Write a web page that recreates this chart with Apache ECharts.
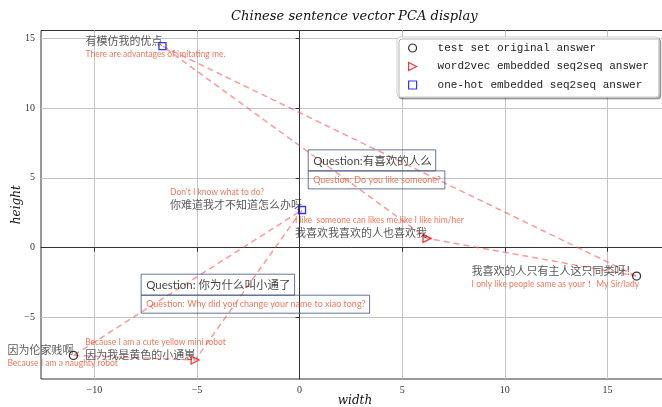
<!DOCTYPE html>
<html><head><meta charset="utf-8">
<script src="https://cdn.jsdelivr.net/npm/echarts@6/dist/echarts.min.js"></script>
<style>html,body{margin:0;padding:0;background:#fff}#c{width:662px;height:407px}</style>
</head><body><div id="c"></div>
<script>
// ---- data ----
const seriesNames = ['test set original answer', 'word2vec embedded seq2seq answer', 'one-hot embedded seq2seq answer'];
const xTicks = [-10, -5, 0, 5, 10, 15];
const yTicks = [-5, 0, 5, 10, 15];
const testX = [16.42, -11.02];
const testY = [-2.03, -7.71];
const w2vX = [6.21, -5.09];
const w2vY = [0.67, -8.04];
const oneHotX = [-6.68, 0.12];
const oneHotY = [14.43, 2.70];
const testZh = ['我喜欢的人只有主人这只同类呀！', '因为伦家贱啊'];
const testEn = ['I only like people same as your！ My Sir/lady', 'Because I am a naughty robot'];
const w2vZh = ['我喜欢我喜欢的人也喜欢我', '因为我是黄色的小通崽'];
const w2vEn = ['I like  someone can likes me,like I like him/her', 'Because I am a cute yellow mini robot'];
const oneHotZh = ['有模仿我的优点', '你难道我才不知道怎么办呀'];
const oneHotEn = ["There are advantages of imitating me.", "Don't I know what to do?"];
const questionZh = ['Question:有喜欢的人么', 'Question: 你为什么叫小通了'];
const questionEn = ['Question: Do you like someone?', 'Question: Why did you change your name to xiao tong?'];
const questionX = [0.42, -7.72];
const questionY = [5.5, -3.4];

// ---- styling / layout ----
const enAbove = { test: [false, false], w2v: [true, true], oneHot: [false, true] };
const zhFontSize = 11, zhFamily = '"Noto Sans CJK SC"';
const enColor = '#ee5533';
const ctx = document.createElement('canvas').getContext('2d');
function measure(str, size, family) { ctx.font = size + 'px ' + family; return ctx.measureText(str).width; }

const annData = [];
function addLabels(xs, ys, zh, en, above) {
  xs.forEach((x, i) => {
    const w = measure(zh[i], zhFontSize, zhFamily);
    annData.push({
      value: [x, ys[i]],
      label: { show: true, position: [0.5, 0.5], align: 'right', verticalAlign: 'bottom',
        formatter: zh[i], fontFamily: zhFamily, fontSize: zhFontSize, color: '#2e2e2e' }
    });
    annData.push({
      value: [x, ys[i]],
      label: { show: true, position: [0.5 - w, 0.5 + (above[i] ? -18 : 8)], align: 'left', verticalAlign: 'middle',
        formatter: en[i], fontFamily: 'Lato', fontSize: 8.5, color: enColor }
    });
  });
}
addLabels(testX, testY, testZh, testEn, enAbove.test);
addLabels(w2vX, w2vY, w2vZh, w2vEn, enAbove.w2v);
addLabels(oneHotX, oneHotY, oneHotZh, oneHotEn, enAbove.oneHot);
questionX.forEach((x, i) => {
  annData.push({
    value: [x, questionY[i]],
    label: { show: true, position: [0.5, 0.5], align: 'left', verticalAlign: 'bottom',
      formatter: questionZh[i], fontFamily: 'Lato, "Noto Sans CJK SC"', fontSize: 11.5, lineHeight: 14, color: '#111',
      borderColor: '#44527f', borderWidth: 1, padding: [4, 4, 3, 5] }
  });
  annData.push({
    value: [x, questionY[i]],
    label: { show: true, position: [0.5, 0.5], align: 'left', verticalAlign: 'top',
      formatter: questionEn[i], fontFamily: 'Lato', fontSize: 9, lineHeight: 12, color: enColor,
      borderColor: '#44527f', borderWidth: 1, padding: [3, 4, 3, 5] }
  });
});

const lineSeries = testX.map((_, i) => ({
  type: 'line', name: 'link' + i, silent: true, symbol: 'none', z: 1,
  data: [[testX[i], testY[i]], [w2vX[i], w2vY[i]], [oneHotX[i], oneHotY[i]], [testX[i], testY[i]]],
  lineStyle: { color: 'rgba(255,70,70,0.55)', width: 1.5, type: [6, 4] }
}));
const zip = (a, b) => a.map((v, i) => [v, b[i]]);

const axisFont = { fontFamily: 'Liberation Serif', fontSize: 10, color: '#333' };
const nameFont = { fontFamily: 'DejaVu Serif', fontStyle: 'italic', fontSize: 12, color: '#111' };
const fmt = v => String(v).replace('-', '\u2212');

const chart = echarts.init(document.getElementById('c'), null, { renderer: 'canvas' });
chart.setOption({
  animation: false,
  backgroundColor: '#fff',
  title: { text: 'Chinese sentence vector PCA display', left: 231, top: 10, padding: 0,
    textStyle: { fontFamily: 'DejaVu Serif', fontStyle: 'italic', fontWeight: 'normal', fontSize: 13.1, color: '#111' } },
  grid: { left: 41, right: -7, top: 30.5, bottom: 28, show: true, borderColor: '#333', borderWidth: 1,
    containLabel: false, outerBoundsMode: 'none' },
  xAxis: {
    type: 'value', min: -12.6, max: 18, name: 'width', nameLocation: 'middle', nameGap: 16, nameMoveOverlap: false,
    nameTextStyle: nameFont,
    axisLine: { show: true, lineStyle: { color: '#333', width: 1 } },
    axisTick: { show: true, inside: false, length: 4, lineStyle: { color: '#333' }, customValues: xTicks },
    axisLabel: { ...axisFont, margin: 6, customValues: xTicks, formatter: fmt },
    splitLine: { show: true, lineStyle: { color: '#c4c4c4', width: 1 } }
  },
  yAxis: {
    type: 'value', min: -9.4, max: 15.55, name: 'height', nameLocation: 'middle', nameGap: 18, nameMoveOverlap: false,
    nameTextStyle: nameFont,
    axisLine: { show: true, lineStyle: { color: '#333', width: 1 } },
    axisTick: { show: true, inside: false, length: 4, lineStyle: { color: '#333' }, customValues: yTicks },
    axisLabel: { ...axisFont, margin: 6, customValues: yTicks, formatter: fmt },
    splitLine: { show: true, lineStyle: { color: '#c4c4c4', width: 1 } }
  },
  legend: {
    orient: 'vertical', left: 397, top: 37, padding: [5.5, 10, 6.5, 11], itemGap: 7.5, itemWidth: 8, itemHeight: 8,
    backgroundColor: '#fff', borderColor: '#cfcfcf', borderWidth: 1, borderRadius: 3,
    shadowColor: 'rgba(0,0,0,0.3)', shadowBlur: 0, shadowOffsetX: 2, shadowOffsetY: 2,
    textStyle: { fontFamily: 'Liberation Mono', fontSize: 11, color: '#222', padding: [0, 0, 0, 16] },
    itemStyle: { borderWidth: 1.2 },
    data: [
      { name: seriesNames[0], icon: 'circle' },
      { name: seriesNames[1], icon: 'path://M0,0 L10,5 L0,10 Z' },
      { name: seriesNames[2], icon: 'rect' }
    ]
  },
  series: [
    ...lineSeries,
    { type: 'scatter', name: seriesNames[0], data: zip(testX, testY), symbol: 'circle', symbolSize: 8, z: 3,
      itemStyle: { color: 'transparent', borderColor: '#000', borderWidth: 1.3 } },
    { type: 'scatter', name: seriesNames[1], data: zip(w2vX, w2vY), symbol: 'triangle', symbolSize: 8, symbolRotate: -90, z: 3,
      itemStyle: { color: 'transparent', borderColor: '#ff0000', borderWidth: 1.3 } },
    { type: 'scatter', name: seriesNames[2], data: zip(oneHotX, oneHotY), symbol: 'rect', symbolSize: 7, z: 3,
      itemStyle: { color: 'transparent', borderColor: '#0000ff', borderWidth: 1.3 } },
    { type: 'scatter', name: 'annotations', silent: true, symbol: 'circle', symbolSize: 1, z: 4,
      itemStyle: { color: 'transparent' }, data: annData, labelLayout: { hideOverlap: false } }
  ]
});
</script></body></html>
